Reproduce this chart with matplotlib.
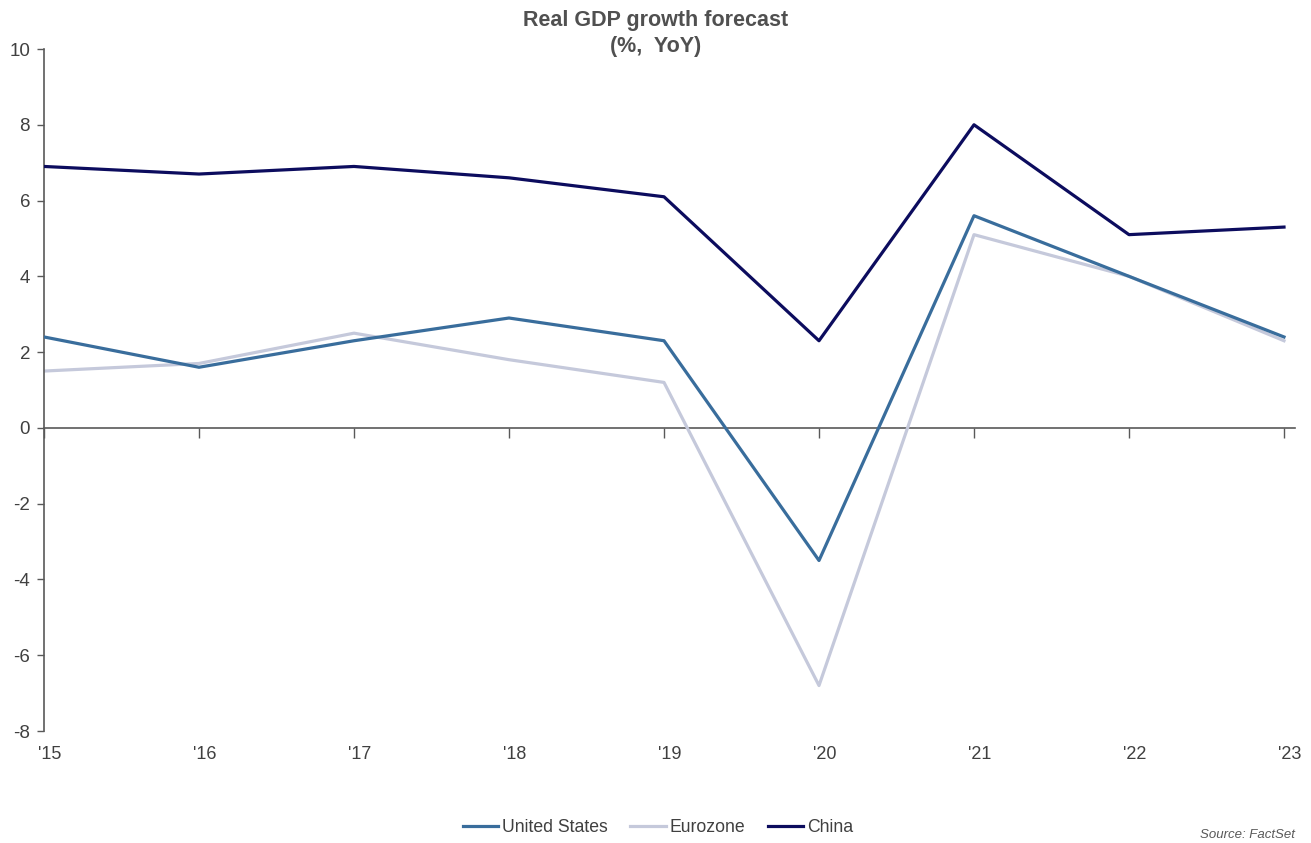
import matplotlib
matplotlib.use("Agg")
import matplotlib.pyplot as plt
import matplotlib.transforms as mtransforms

plt.rcParams['font.family'] = ['Liberation Sans', 'DejaVu Sans']

years = ["'15", "'16", "'17", "'18", "'19", "'20", "'21", "'22", "'23"]
us = [2.4, 1.6, 2.3, 2.9, 2.3, -3.5, 5.6, 4.0, 2.4]
eurozone = [1.5, 1.7, 2.5, 1.8, 1.2, -6.8, 5.1, 4.0, 2.3]
china = [6.9, 6.7, 6.9, 6.6, 6.1, 2.3, 8.0, 5.1, 5.3]

c_us = '#396D9C'
c_ez = '#C5C9DB'
c_cn = '#0C0C5E'
grey = '#595959'

W, H = 1311, 843
fig = plt.figure(figsize=(W / 100, H / 100), dpi=100)
ax = fig.add_axes([44 / W, 1 - 731 / H, (1295 - 44) / W, (731 - 49) / H])

x = list(range(len(years)))
ax.plot(x, us, color=c_us, lw=2.3, label='United States', zorder=3)
ax.plot(x, eurozone, color=c_ez, lw=2.3, label='Eurozone', zorder=2)
ax.plot(x, china, color=c_cn, lw=2.3, label='China', zorder=4)

ax.set_ylim(-8, 10)
ax.set_xlim(0, 8 + 11 / 155)
ax.set_yticks(range(-8, 11, 2))
ax.set_yticklabels([str(v) for v in range(-8, 11, 2)])

for s in ['top', 'right', 'bottom']:
    ax.spines[s].set_visible(False)
ax.spines['left'].set_color(grey)
ax.spines['left'].set_linewidth(1.2)
ax.tick_params(axis='y', colors=grey, labelsize=13.5, length=5, width=1.0, pad=5,
               labelcolor='#404040')

ax.set_xticks(x)
ax.set_xticklabels(years)
ax.tick_params(axis='x', length=0, labelsize=13, labelcolor='#404040', pad=11)
offset = mtransforms.ScaledTranslation(6 / 100, 0, fig.dpi_scale_trans)
for lbl in ax.get_xticklabels():
    lbl.set_transform(lbl.get_transform() + offset)

# zero line with ticks
sec = ax.secondary_xaxis(8 / 18)
sec.set_xticks(x)
sec.set_xticklabels([])
sec.spines['bottom'].set_color(grey)
sec.spines['bottom'].set_linewidth(1.2)
sec.tick_params(axis='x', direction='out', length=7, width=1.0, color=grey)

fig.text(656 / W, 1 - 10 / H, 'Real GDP growth forecast\n(%,  YoY)', ha='center', va='top',
         fontsize=15.5, fontweight='bold', color='#505050', linespacing=1.3)

fig.legend(loc='center', bbox_to_anchor=(658 / W, 1 - 828 / H), ncol=3, frameon=False,
           fontsize=12.7, handlelength=2.0, handletextpad=0.22, columnspacing=1.3,
           labelcolor='#404040')

fig.text(1200 / W, 1 - 829 / H, 'Source: FactSet', ha='left', va='top', fontsize=9.5,
         style='italic', color=grey)

fig.savefig('out.png', dpi=100)
